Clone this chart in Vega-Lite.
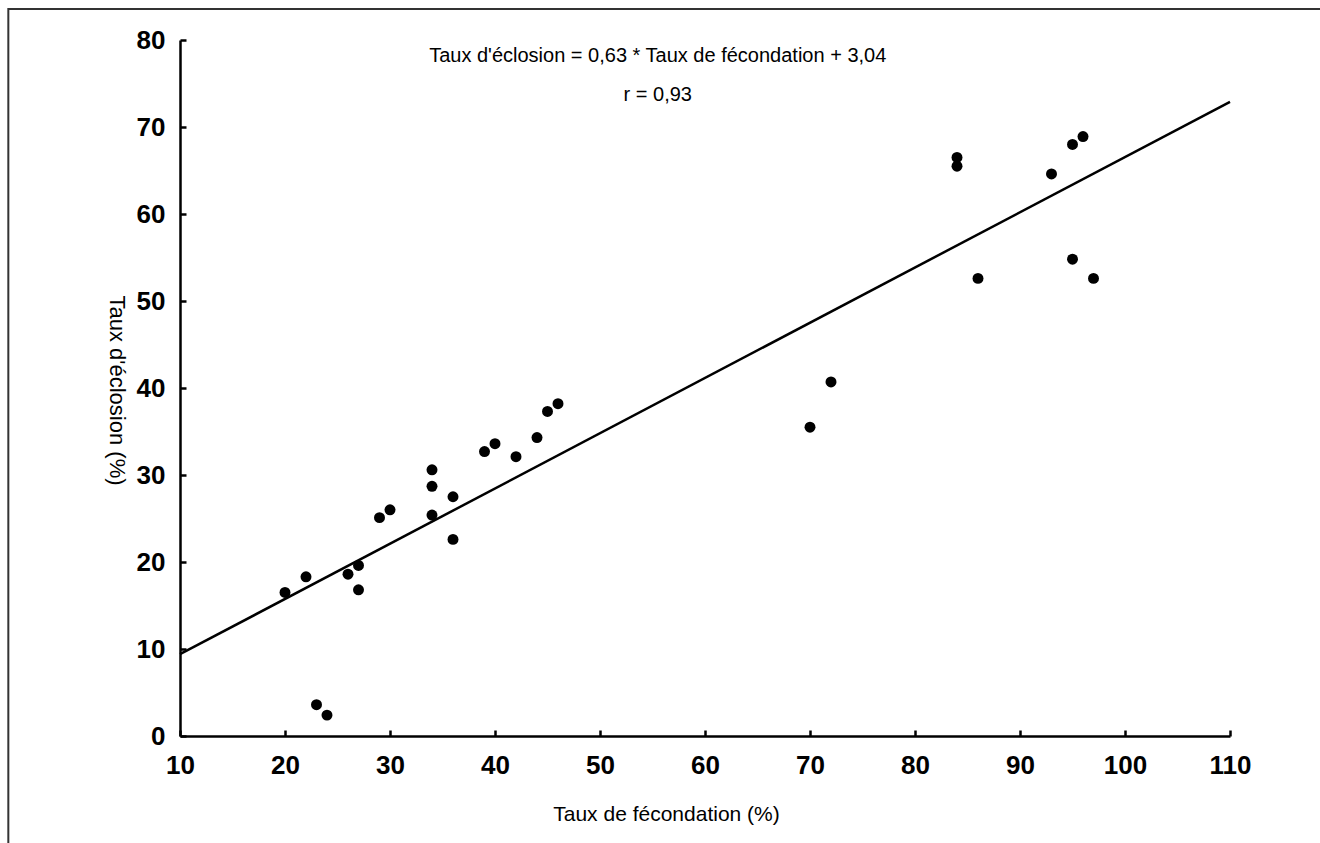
{
  "$schema": "https://vega.github.io/schema/vega-lite/v6.json",
  "width": 1050,
  "height": 696,
  "autosize": {"type": "none"},
  "padding": {"left": 180, "top": 40, "right": 90, "bottom": 107},
  "background": "white",
  "config": {
    "view": {"stroke": null},
    "font": "Liberation Sans",
    "axis": {
      "grid": false,
      "domainColor": "black",
      "domainWidth": 2.5,
      "tickColor": "black",
      "tickWidth": 2.5,
      "tickSize": -6,
      "labelColor": "black",
      "labelFont": "Liberation Sans",
      "labelFontSize": 26,
      "labelFontWeight": "bold",
      "labelFlush": false,
      "titleFont": "Liberation Sans",
      "titleFontWeight": "normal",
      "titleColor": "black"
    }
  },
  "datasets": {
    "points": [
      {"fec": 20, "ecl": 16.5},
      {"fec": 22, "ecl": 18.3},
      {"fec": 23, "ecl": 3.6},
      {"fec": 24, "ecl": 2.4},
      {"fec": 26, "ecl": 18.6},
      {"fec": 27, "ecl": 19.6},
      {"fec": 27, "ecl": 16.8},
      {"fec": 29, "ecl": 25.1},
      {"fec": 30, "ecl": 26.0},
      {"fec": 34, "ecl": 30.6},
      {"fec": 34, "ecl": 28.7},
      {"fec": 34, "ecl": 25.4},
      {"fec": 36, "ecl": 27.5},
      {"fec": 36, "ecl": 22.6},
      {"fec": 39, "ecl": 32.7},
      {"fec": 40, "ecl": 33.6},
      {"fec": 42, "ecl": 32.1},
      {"fec": 44, "ecl": 34.3},
      {"fec": 45, "ecl": 37.3},
      {"fec": 46, "ecl": 38.2},
      {"fec": 70, "ecl": 35.5},
      {"fec": 72, "ecl": 40.7},
      {"fec": 84, "ecl": 66.5},
      {"fec": 84, "ecl": 65.5},
      {"fec": 86, "ecl": 52.6},
      {"fec": 93, "ecl": 64.6},
      {"fec": 95, "ecl": 68.0},
      {"fec": 96, "ecl": 68.9},
      {"fec": 95, "ecl": 54.8},
      {"fec": 97, "ecl": 52.6}
    ],
    "fit": [
      {"fec": 10, "ecl": 9.4},
      {"fec": 110, "ecl": 72.9}
    ],
    "one": [{}]
  },
  "layer": [
    {
      "data": {"name": "one"},
      "mark": {"type": "rect", "filled": false, "stroke": "#333333", "strokeWidth": 2, "clip": false},
      "encoding": {
        "x": {"datum": -6.35, "type": "quantitative"},
        "x2": {"datum": 119.5},
        "y": {"datum": 83.56, "type": "quantitative"},
        "y2": {"datum": -13.4}
      }
    },
    {
      "data": {"name": "fit"},
      "mark": {"type": "line", "color": "black", "strokeWidth": 2.5},
      "encoding": {
        "x": {"field": "fec", "type": "quantitative"},
        "y": {"field": "ecl", "type": "quantitative"}
      }
    },
    {
      "data": {"name": "points"},
      "mark": {"type": "point", "filled": true, "color": "black", "opacity": 1, "size": 120},
      "encoding": {
        "x": {
          "field": "fec",
          "type": "quantitative",
          "scale": {"domain": [10, 110], "nice": false, "zero": false},
          "axis": {
            "values": [10, 20, 30, 40, 50, 60, 70, 80, 90, 100, 110],
            "title": "Taux de fécondation (%)",
            "titleFontSize": 21,
            "labelPadding": 22,
            "titleX": 486,
            "titleY": 84,
            "titleBaseline": "alphabetic",
            "titleAlign": "center"
          }
        },
        "y": {
          "field": "ecl",
          "type": "quantitative",
          "scale": {"domain": [0, 80], "nice": false, "zero": true},
          "axis": {
            "values": [0, 10, 20, 30, 40, 50, 60, 70, 80],
            "title": "Taux d'éclosion (%)",
            "titleFontSize": 22,
            "labelPadding": 21,
            "titleAngle": 90,
            "titleX": -64,
            "titleY": 350,
            "titleBaseline": "middle",
            "titleAlign": "center"
          }
        }
      }
    },
    {
      "data": {"name": "one"},
      "mark": {
        "type": "text",
        "text": ["Taux d'éclosion = 0,63 * Taux de fécondation + 3,04", "r = 0,93"],
        "font": "Liberation Sans",
        "fontSize": 20,
        "color": "black",
        "align": "center",
        "baseline": "alphabetic",
        "lineHeight": 39
      },
      "encoding": {
        "x": {"datum": 55.5, "type": "quantitative"},
        "y": {"datum": 77.47, "type": "quantitative"}
      }
    }
  ]
}
